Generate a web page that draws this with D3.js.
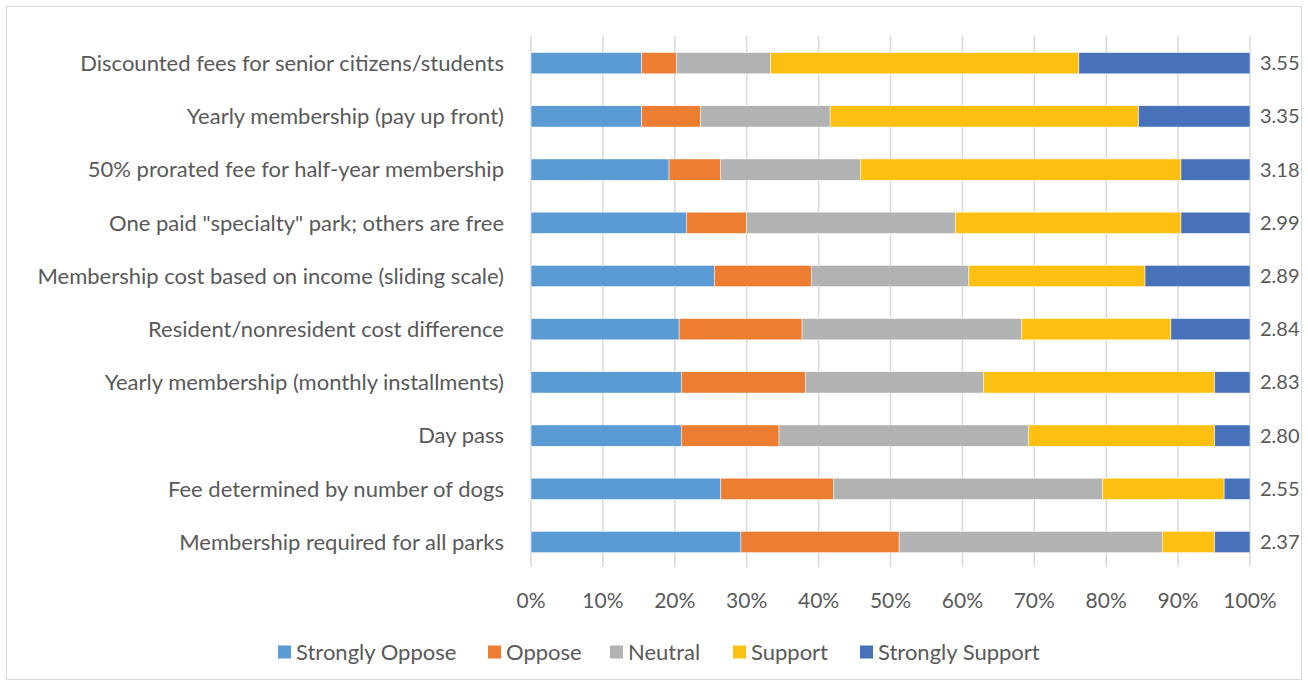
<!DOCTYPE html>
<html>
<head>
<meta charset="utf-8">
<script src="https://cdn.jsdelivr.net/npm/d3@7"></script>
<style>
  body { margin: 0; background: #fff; }
  svg text { font-family: Lato, "Noto Sans", sans-serif; fill: #595959; }
</style>
</head>
<body>
<div class="chart"></div>
<script>
// questions, top to bottom
const questions = [
    "Discounted fees for senior citizens/students",
    "Yearly membership (pay up front)",
    "50% prorated fee for half-year membership",
    "One paid \"specialty\" park; others are free",
    "Membership cost based on income (sliding scale)",
    "Resident/nonresident cost difference",
    "Yearly membership (monthly installments)",
    "Day pass",
    "Fee determined by number of dogs",
    "Membership required for all parks"
];
const means = ["3.55", "3.35", "3.18", "2.99", "2.89", "2.84", "2.83", "2.80", "2.55", "2.37"];

const responses = ["Strongly Oppose", "Oppose", "Neutral", "Support", "Strongly Support"];
const colors = ["#5B9BD5", "#ED7D31", "#B1B2B3", "#FDC010", "#4772B9"];

// percent of answers
const stronglyOppose  = [15.4, 15.4, 19.2, 21.6, 25.5, 20.6, 20.9, 20.9, 26.4, 29.2];
const oppose          = [4.8, 8.2, 7.2, 8.4, 13.5, 17.1, 17.3, 13.6, 15.7, 22.0];
const neutral         = [13.1, 18.0, 19.4, 29.0, 21.9, 30.5, 24.7, 34.7, 37.4, 36.6];
const support         = [42.9, 42.9, 44.6, 31.4, 24.5, 20.8, 32.2, 25.9, 16.9, 7.3];
const stronglySupport = [23.8, 15.5, 9.6, 9.6, 14.6, 11.0, 4.9, 4.9, 3.6, 4.9];

const xTicks = [0, 0.1, 0.2, 0.3, 0.4, 0.5, 0.6, 0.7, 0.8, 0.9, 1];

const series = [stronglyOppose, oppose, neutral, support, stronglySupport];
const rows = questions.map((q, i) => {
    const r = { question: q, mean: means[i] };
    responses.forEach((k, j) => r[k] = series[j][i]);
    return r;
});

const width = 1308;
const height = 686;

const svg = d3.select("div.chart")
    .append("svg")
    .attr("width", width)
    .attr("height", height);

// chart border
svg.append("rect")
    .attr("x", 6.5).attr("y", 6.5)
    .attr("width", width - 13).attr("height", height - 13)
    .attr("fill", "none")
    .attr("stroke", "#D9D9D9");

const x = d3.scaleLinear().domain([0, 1]).range([531, 1250]);
const y = d3.scaleBand().domain(questions).range([36.6, 568.6])
    .paddingInner(0.6).paddingOuter(0.3);

const stacked = d3.stack().keys(responses).offset(d3.stackOffsetExpand)(rows);

// gridlines
svg.append("g")
    .selectAll("line")
    .data(xTicks)
    .enter()
    .append("line")
    .attr("x1", d => x(d)).attr("x2", d => x(d))
    .attr("y1", 36).attr("y2", 567)
    .attr("stroke", "#D9D9D9")
    .attr("stroke-width", 1.5);

// bars
svg.append("g")
    .selectAll("g")
    .data(stacked)
    .enter()
    .append("g")
    .attr("fill", (d, i) => colors[i])
    .selectAll("rect")
    .data(d => d)
    .enter()
    .append("rect")
    .attr("x", d => x(d[0]))
    .attr("y", d => y(d.data.question))
    .attr("width", d => x(d[1]) - x(d[0]))
    .attr("height", y.bandwidth())
    .attr("stroke", "#fff")
    .attr("stroke-width", 0.5);

// category labels
svg.append("g")
    .selectAll("text")
    .data(questions)
    .enter()
    .append("text")
    .attr("x", 504)
    .attr("y", d => y(d) + y.bandwidth() / 2)
    .attr("dy", "0.35em")
    .attr("text-anchor", "end")
    .style("font-size", "22px")
    .text(d => d);

// mean values on the right
svg.append("g")
    .selectAll("text")
    .data(rows)
    .enter()
    .append("text")
    .attr("x", 1260)
    .attr("y", d => y(d.question) + y.bandwidth() / 2)
    .attr("dy", "0.35em")
    .style("font-size", "20px")
    .text(d => d.mean);

// x axis labels
svg.append("g")
    .selectAll("text")
    .data(xTicks)
    .enter()
    .append("text")
    .attr("x", d => x(d))
    .attr("y", 608)
    .attr("text-anchor", "middle")
    .style("font-size", "21px")
    .text(d3.format(".0%"));

// legend
const legendX = [278, 488, 610, 733, 860];
const legend = svg.append("g")
    .selectAll("g")
    .data(responses)
    .enter()
    .append("g")
    .attr("transform", (d, i) => `translate(${legendX[i]},652)`);

legend.append("rect")
    .attr("x", 0).attr("y", -6.5)
    .attr("width", 13).attr("height", 13)
    .attr("fill", (d, i) => colors[i]);

legend.append("text")
    .attr("x", 18)
    .attr("dy", "0.35em")
    .style("font-size", "22px")
    .text(d => d);
</script>
</body>
</html>
